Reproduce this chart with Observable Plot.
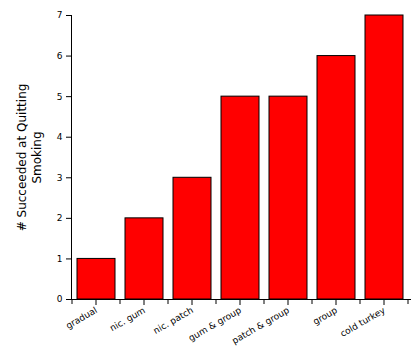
<!DOCTYPE html>
<html><head><meta charset="utf-8">
<script src="https://cdn.jsdelivr.net/npm/d3@7"></script>
<script src="https://cdn.jsdelivr.net/npm/@observablehq/plot@0.6"></script>
<style>body{margin:0;background:#fff}</style>
</head><body><div id="chart"></div>
<script>
const categories = ["gradual","nic. gum","nic. patch","gum & group","patch & group","group","cold turkey"];
const values = [1,2,3,5,5,6,7];
const yTicks = [0,1,2,3,4,5,6,7];
const yLabel = "# Succeeded at Quitting\nSmoking";
const data = categories.map((c,i)=>({cat:c, v:values[i]}));

const boundaryTicks = (index, scales, values, dims) => {
  const g = d3.create("svg:g");
  const x = scales.x;
  const bw = x.bandwidth();
  const step = x.step();
  const gap = (step - bw) / 2;
  const y0 = dims.height - dims.marginBottom;
  categories.forEach((c)=>{
    const b = x(c) - gap;
    g.append("line").attr("x1",b).attr("x2",b).attr("y1",y0).attr("y2",y0+5).attr("stroke","#000");
    const m = x(c) + bw/2;
    g.append("line").attr("x1",m).attr("x2",m).attr("y1",y0).attr("y2",y0+6).attr("stroke","#000");
  });
  const e = x(categories[categories.length-1]) + bw + gap;
  g.append("line").attr("x1",e).attr("x2",e).attr("y1",y0).attr("y2",y0+5).attr("stroke","#000");
  return g.node();
};

const chart = Plot.plot({
  width: 418, height: 361,
  marginLeft: 71, marginRight: 8, marginTop: 15, marginBottom: 62,
  style: {fontFamily: "DejaVu Sans, Verdana, sans-serif", fontSize: "9px", color: "#000", background: "#fff"},
  x: {domain: categories, paddingInner: 0.2, paddingOuter: 0.1, label: null},
  y: {domain: [0,7], label: null},
  marks: [
    Plot.barY(data, {x: "cat", y: "v", fill: "#ff0000", stroke: "#000", strokeWidth: 1}),
    Plot.axisY({ticks: yTicks, tickFormat: "d", tickSize: 5, tickPadding: 4, label: null, fontSize: 9}),
    Plot.axisX({tickSize: 0, tickRotate: -30, tickPadding: 10, label: null, fontSize: 9}),
    Plot.frame({anchor: "left"}),
    Plot.frame({anchor: "bottom"}),
    boundaryTicks,
    Plot.text([yLabel], {frameAnchor: "left", dx: -43, rotate: -90, textAnchor: "middle", fontSize: 12, lineHeight: 1.25, fill: "#000"})
  ]
});
document.getElementById("chart").append(chart);
</script></body></html>
